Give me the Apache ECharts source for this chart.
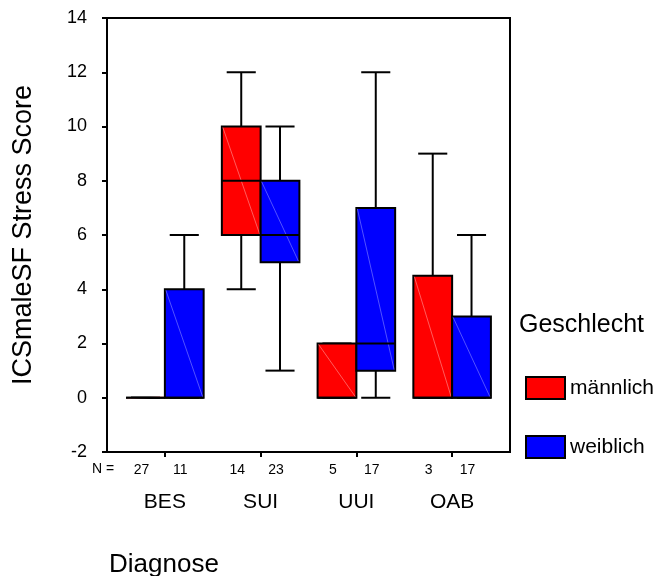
<!DOCTYPE html>
<html>
<head>
<meta charset="utf-8">
<script src="https://cdn.jsdelivr.net/npm/echarts@6/dist/echarts.min.js"></script>
<style>html,body{margin:0;padding:0;background:#fff}#c{width:655px;height:576px}</style>
</head>
<body>
<div id="c"></div>
<script>
const categories = ['BES', 'SUI', 'UUI', 'OAB'];
// männlich
const maleMin = [0, 4, 0, 0];
const maleQ1  = [0, 6, 0, 0];
const maleMed = [0, 8, 0, 0];
const maleQ3  = [0, 10, 2, 4.5];
const maleMax = [0, 12, 2, 9];
const maleN   = [27, 14, 5, 3];
// weiblich
const femaleMin = [0, 1, 0, 0];
const femaleQ1  = [0, 5, 1, 0];
const femaleMed = [0, 6, 2, 0];
const femaleQ3  = [4, 8, 7, 3];
const femaleMax = [6, 10, 12, 6];
const femaleN   = [11, 23, 17, 17];
const yMin = -2, yMax = 14, yStep = 2;

const FONT = '"Liberation Sans", Arial, sans-serif';

function build(mins, q1s, meds, q3s, maxs, ns) {
  return categories.map((c, i) => [i, mins[i], q1s[i], meds[i], q3s[i], maxs[i], ns[i]]);
}

function makeRender(side, fill, diag) {
  return function (params, api) {
    const ci = api.value(0);
    const cx = api.coord([ci, 0])[0];
    const band = api.size([1, 0])[0];
    const w = band * 0.405;
    const x0 = side < 0 ? cx - w : cx;
    const x1 = x0 + w;
    const xm = x0 + w / 2;
    const Y = v => api.coord([ci, v])[1];
    const yMn = Y(api.value(1)), yQ1 = Y(api.value(2)), yMd = Y(api.value(3)),
          yQ3 = Y(api.value(4)), yMx = Y(api.value(5));
    const ch = w * 0.375;
    const ls = { stroke: '#000', lineWidth: 2 };
    const yBottom = Y(yMin);
    return {
      type: 'group',
      children: [
        { type: 'line', shape: { x1: xm, y1: yQ3, x2: xm, y2: yMx }, style: ls },
        { type: 'line', shape: { x1: xm, y1: yQ1, x2: xm, y2: yMn }, style: ls },
        { type: 'line', shape: { x1: xm - ch, y1: yMx, x2: xm + ch, y2: yMx }, style: ls },
        { type: 'line', shape: { x1: xm - ch, y1: yMn, x2: xm + ch, y2: yMn }, style: ls },
        { type: 'rect', shape: { x: x0, y: yQ3, width: w, height: yQ1 - yQ3 }, style: { fill: fill, stroke: '#000', lineWidth: 2 } },
        { type: 'line', shape: { x1: x0 + 1, y1: yQ3 + 1, x2: x1 - 1, y2: yQ1 - 1 }, style: { stroke: diag, lineWidth: 0.6 } },
        { type: 'line', shape: { x1: x0, y1: yMd, x2: x1, y2: yMd }, style: ls },
        { type: 'text', style: { text: String(api.value(6)), x: xm - 4, y: yBottom + 18, align: 'center', verticalAlign: 'middle', fontSize: 14, fontFamily: FONT, fill: '#000' } }
      ]
    };
  };
}

const chart = echarts.init(document.getElementById('c'), null, { renderer: 'canvas' });
chart.setOption({
  animation: false,
  backgroundColor: '#fff',
  textStyle: { fontFamily: FONT, color: '#000' },
  title: [
    { text: 'Geschlecht', left: 519, top: 313, padding: 0, textStyle: { fontFamily: FONT, fontSize: 25, fontWeight: 'normal', color: '#000' } },
    { text: 'Diagnose', left: 109, top: 552, padding: 0, textStyle: { fontFamily: FONT, fontSize: 26, fontWeight: 'normal', color: '#000' } }
  ],
  graphic: [
    { type: 'text', left: 92, top: 462, style: { text: 'N =', fontSize: 14, fontFamily: FONT, fill: '#000' } }
  ],
  legend: {
    orient: 'vertical', left: 525, top: 376, padding: 0, itemWidth: 39, itemHeight: 22, itemGap: 35,
    selectedMode: false, icon: 'rect',
    textStyle: { fontFamily: FONT, fontSize: 21, color: '#000' },
    data: [
      { name: 'männlich', itemStyle: { color: '#ff0000', borderColor: '#000', borderWidth: 2 } },
      { name: 'weiblich', itemStyle: { color: '#0000ff', borderColor: '#000', borderWidth: 2 } }
    ]
  },
  grid: [
    { left: 117, right: 155, top: 18, bottom: 124 },
    { left: 107, right: 145, top: 18, bottom: 124, show: true, borderColor: '#000', borderWidth: 2, backgroundColor: 'transparent' }
  ],
  xAxis: [
    { type: 'category', gridIndex: 0, data: categories, boundaryGap: true,
      axisLine: { show: false, onZero: false },
      axisTick: { show: true, alignWithLabel: true, length: 5, lineStyle: { color: '#000', width: 2 } },
      axisLabel: { margin: 40, fontSize: 21, fontFamily: FONT, color: '#000' },
      splitLine: { show: false } },
    { type: 'value', gridIndex: 1, show: false }
  ],
  yAxis: [
    { type: 'value', gridIndex: 0, min: yMin, max: yMax, interval: yStep, offset: 10,
      name: 'ICSmaleSF Stress Score', nameLocation: 'middle', nameGap: 70,
      nameTextStyle: { fontFamily: FONT, fontSize: 27, color: '#000' },
      axisLine: { show: false },
      axisTick: { show: true, length: 5, lineStyle: { color: '#000', width: 2 } },
      axisLabel: { margin: 20, fontSize: 18, fontFamily: FONT, color: '#000' },
      splitLine: { show: false } },
    { type: 'value', gridIndex: 1, show: false }
  ],
  series: [
    { name: 'männlich', type: 'custom', xAxisIndex: 0, yAxisIndex: 0, clip: false,
      itemStyle: { color: '#ff0000' },
      encode: { x: 0, y: [1, 2, 3, 4, 5] },
      renderItem: makeRender(-1, '#ff0000', '#ff9a9a'),
      data: build(maleMin, maleQ1, maleMed, maleQ3, maleMax, maleN) },
    { name: 'weiblich', type: 'custom', xAxisIndex: 0, yAxisIndex: 0, clip: false,
      itemStyle: { color: '#0000ff' },
      encode: { x: 0, y: [1, 2, 3, 4, 5] },
      renderItem: makeRender(1, '#0000ff', '#8a8aff'),
      data: build(femaleMin, femaleQ1, femaleMed, femaleQ3, femaleMax, femaleN) }
  ]
});
</script>
</body>
</html>
